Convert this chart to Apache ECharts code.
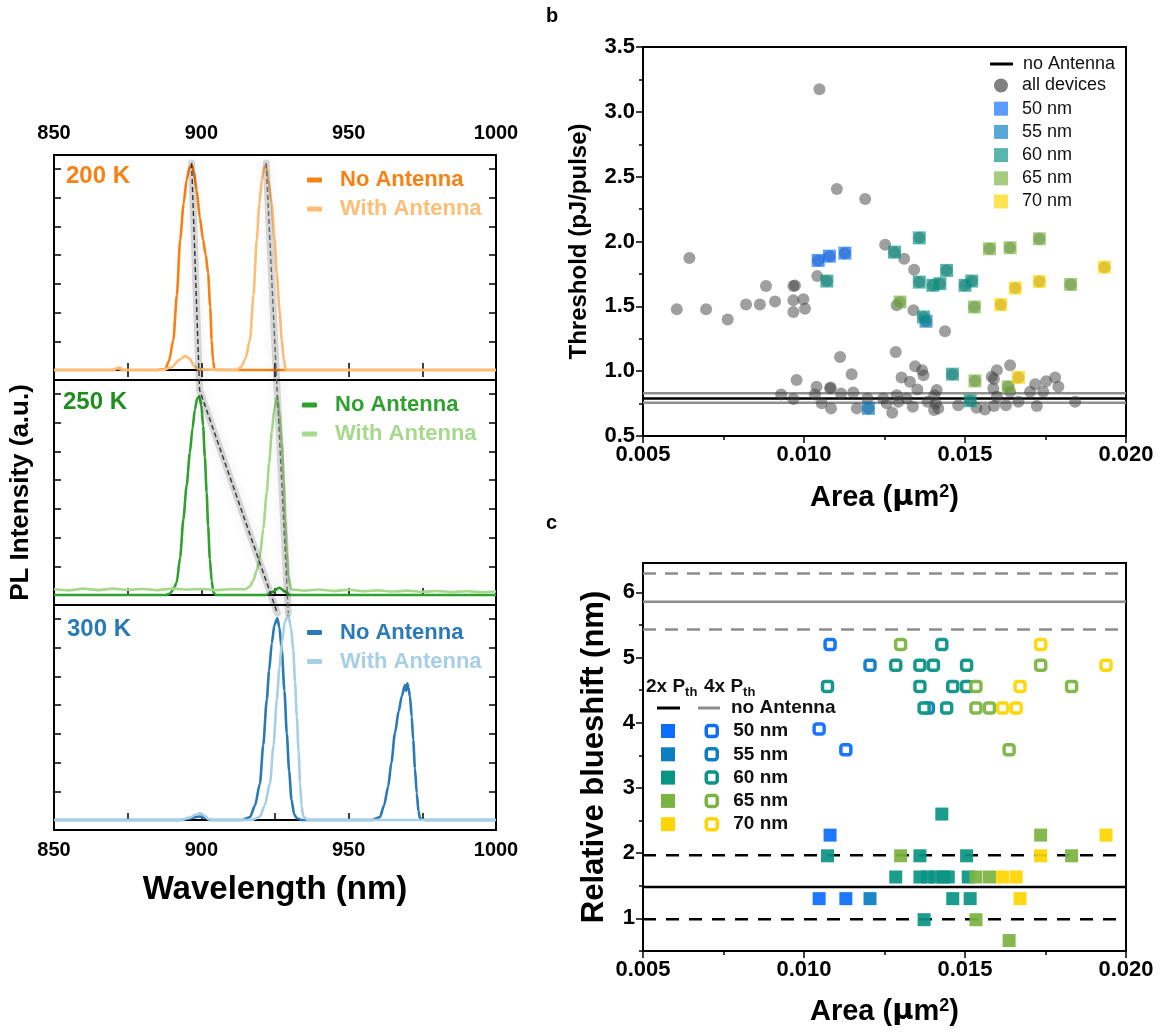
<!DOCTYPE html>
<html><head><meta charset="utf-8">
<script src="https://cdn.jsdelivr.net/npm/echarts@6/dist/echarts.min.js"></script>
<style>html,body{margin:0;padding:0;background:#fff}#chart{width:1162px;height:1032px}</style>
</head><body><div id="chart"></div>
<script>
// ---------------- Panel a: PL spectra (wavelength nm, intensity a.u.) ----------------
const spec200NoAnt = [[850,0],[870,0],[871.5,0.05],[873,0],[885,0],[887.7,0.02],[889,0.3],[890.5,1.05],[891.7,2.6],[892.8,4.53],[894,5.8],[895,6.62],[896,7.05],[896.7,7.14],[897.5,6.9],[898.4,6.27],[899.5,5.3],[900.6,4.53],[901.5,4.0],[902.3,3.38],[903,2.2],[903.5,1.05],[904,0.3],[904.5,0],[920,0],[1000,0]];
const spec200WithAnt = [[850,0],[870,0],[872,0.08],[874,0],[887,0],[890,0.1],[892.5,0.35],[894.5,0.49],[896,0.4],[897.5,0.15],[899,0.02],[912,0],[913.5,0.1],[915,0.4],[916.5,1.05],[917.7,2.6],[918.8,4.53],[919.7,5.8],[920.5,6.6],[921.3,7.05],[921.9,7.14],[922.8,6.6],[923.9,5.8],[924.8,4.6],[925.6,3.38],[926.5,2.1],[927.3,1.05],[928,0.35],[928.7,0],[1000,0]];
const spec250NoAnt = [[850,0],[888,0],[889.4,0.05],[890.5,0.2],[891.6,0.42],[892.8,1.3],[893.9,2.63],[895,3.8],[896.1,4.95],[897,5.8],[897.8,6.46],[898.6,6.85],[899.3,6.92],[900,6.6],[900.6,5.89],[901.2,4.8],[901.8,3.57],[902.3,2.4],[902.9,1.25],[903.5,0.5],[904.1,0.08],[905,0],[922,0],[924,0.1],[926.5,0.25],[928.5,0.12],[930,0],[1000,0]];
const spec250WithAnt = [[850,0.2],[855,0.16],[860,0.22],[865,0.17],[870,0.22],[875,0.18],[880,0.21],[885,0.17],[890,0.22],[895,0.19],[900,0.21],[905,0.17],[910,0.2],[915,0.2],[916.5,0.3],[917.6,0.5],[918.8,0.85],[919.9,1.35],[921,2.3],[922.2,3.57],[923,4.6],[923.9,5.66],[924.8,6.5],[925.8,6.92],[926.5,6.3],[927.3,5.3],[927.9,4.0],[928.4,2.63],[929,1.5],[929.5,0.65],[930.6,0.19],[935,0.15],[940,0.19],[945,0.14],[950,0.18],[955,0.13],[960,0.16],[965,0.12],[970,0.15],[975,0.11],[980,0.14],[985,0.1],[990,0.13],[995,0.1],[1000,0.12]];
const spec300NoAnt = [[850,0],[893,0],[896,0.05],[898,0.1],[899.5,0.12],[901,0.08],[903,0],[914,0],[916.5,0.1],[918.2,0.5],[919.9,1.28],[921,2.6],[922.2,4.18],[923,5.2],[923.9,6.15],[924.8,6.8],[925.8,7.03],[926.5,6.7],[927.3,5.92],[928.2,4.5],[929,3.02],[929.8,1.7],[930.6,0.7],[931.5,0.2],[932.4,0.06],[934,0],[958,0],[960.6,0.1],[962,0.5],[963.4,1.16],[964.5,2.0],[965.7,3.02],[967,3.8],[968,4.3],[969.1,4.7],[969.5,4.5],[969.9,4.76],[970.3,4.6],[970.8,4.3],[971.4,3.6],[971.9,2.79],[972.5,1.8],[973.1,0.93],[973.7,0.3],[974.2,0.06],[976,0],[1000,0]];
const spec300WithAnt = [[850,0],[893,0],[896,0.08],[898,0.18],[899.5,0.23],[901,0.15],[902.5,0.03],[904,0],[917,0],[918.5,0.05],[919.9,0.12],[921.5,0.5],[923.3,1.28],[924.5,2.6],[925.6,4.18],[926.5,5.3],[927.3,6.15],[928.3,6.9],[929.5,7.14],[930.4,6.7],[931.2,5.92],[931.8,4.8],[932.4,3.6],[933,2.4],[933.5,1.28],[934,0.5],[934.6,0.12],[936,0],[1000,0]];
// guide lines through the peaks (y in panel units: each panel = 1, top panel top = 3)
const guideNoAnt = [[896.7,2.964],[899.4,1.956],[925.8,0.964]];
const guideWithAnt = [[922.0,2.964],[925.7,1.956],[929.5,0.964]];
const intensityTicks = [0,1,2,3,4,5,6,7];

// ---------------- Panel b: threshold vs area ----------------
const bGray = [[0.01048,3.175],[0.01102,2.405],[0.01190,2.328],[0.00644,1.872],[0.01252,1.975],[0.01311,1.867],[0.01342,1.782],[0.01041,1.733],[0.00882,1.656],[0.00967,1.656],[0.00972,1.660],[0.00605,1.477],[0.00696,1.477],[0.00763,1.398],[0.00820,1.515],[0.00863,1.515],[0.00910,1.538],[0.00967,1.546],[0.00998,1.554],[0.00967,1.456],[0.01003,1.482],[0.01288,1.508],[0.01340,1.469],[0.01438,1.308],[0.01112,1.110],[0.01148,0.977],[0.01285,1.148],[0.01345,1.038],[0.01367,1.008],[0.01371,0.969],[0.01303,0.952],[0.01329,0.918],[0.00977,0.931],[0.01039,0.879],[0.01081,0.867],[0.01083,0.875],[0.01115,0.828],[0.01153,0.836],[0.00929,0.821],[0.00967,0.785],[0.01034,0.821],[0.01055,0.752],[0.01084,0.713],[0.01164,0.713],[0.01197,0.790],[0.01246,0.790],[0.01257,0.752],[0.01288,0.815],[0.01293,0.764],[0.01319,0.790],[0.01338,0.725],[0.01274,0.679],[0.01352,0.859],[0.01384,0.764],[0.01412,0.854],[0.01405,0.815],[0.01409,0.752],[0.01404,0.700],[0.01417,0.713],[0.01479,0.738],[0.01536,0.718],[0.01562,0.705],[0.01590,0.731],[0.01583,0.956],[0.01590,0.940],[0.01599,1.008],[0.01640,1.046],[0.01588,0.867],[0.01599,0.802],[0.01627,0.738],[0.01666,0.764],[0.01640,0.841],[0.01702,0.841],[0.01718,0.900],[0.01723,0.731],[0.01743,0.841],[0.01752,0.923],[0.01780,0.952],[0.01790,0.879],[0.01842,0.764]];
const b50 = [[0.01044,1.854],[0.01079,1.887],[0.01127,1.910]];
const b55 = [[0.01379,1.385],[0.01200,0.713]];
const b60 = [[0.01358,2.028],[0.01281,1.918],[0.01071,1.695],[0.01358,1.687],[0.01400,1.662],[0.01422,1.675],[0.01443,1.777],[0.01500,1.662],[0.01521,1.695],[0.01371,1.418],[0.01461,0.977],[0.01516,0.772]];
const b65 = [[0.01576,1.944],[0.01640,1.952],[0.01731,2.021],[0.01828,1.669],[0.01298,1.533],[0.01529,1.495],[0.01531,0.925],[0.01634,0.879]];
const b70 = [[0.01933,1.802],[0.01731,1.692],[0.01656,1.641],[0.01611,1.513],[0.01666,0.952]];
const bNoAntenna = 0.79;
const bNoAntennaBand = [0.756, 0.83];

// ---------------- Panel c: relative blueshift vs area ----------------
const c2x50 = [[0.01081,2.277],[0.01047,1.303],[0.01130,1.303]];
const c2x55 = [[0.01205,1.303]];
const c2x60 = [[0.01428,2.6],[0.01073,1.96],[0.01360,1.96],[0.01505,1.96],[0.01285,1.635],[0.01360,1.635],[0.01384,1.635],[0.01408,1.635],[0.01433,1.635],[0.01448,1.635],[0.01510,1.635],[0.01462,1.303],[0.01516,1.303],[0.01373,0.98]];
const c2x65 = [[0.01735,2.277],[0.01300,1.96],[0.01831,1.96],[0.01534,1.635],[0.01576,1.635],[0.01534,0.98],[0.01637,0.66]];
const c2x70 = [[0.01938,2.277],[0.01735,1.96],[0.01617,1.635],[0.01659,1.635],[0.01671,1.303]];
const c4x50 = [[0.01081,5.2],[0.01047,3.903],[0.01130,3.585]];
const c4x55 = [[0.01205,4.882],[0.01386,4.226]];
const c4x60 = [[0.01428,5.2],[0.01285,4.882],[0.01360,4.882],[0.01402,4.882],[0.01505,4.882],[0.01073,4.558],[0.01360,4.558],[0.01462,4.558],[0.01505,4.558],[0.01373,4.226],[0.01443,4.226]];
const c4x65 = [[0.01300,5.2],[0.01735,4.882],[0.01534,4.558],[0.01831,4.558],[0.01534,4.226],[0.01576,4.226],[0.01637,3.585]];
const c4x70 = [[0.01735,5.2],[0.01938,4.882],[0.01671,4.558],[0.01617,4.226],[0.01659,4.226]];
const c2xMean = 1.48, c2xBand = [0.985, 1.97];
const c4xMean = 5.857, c4xBand = [5.43, 6.29];
const cMajorTicks = [1,2,3,4,5,6];
const cMinorTicks = [0.5,1.5,2.5,3.5,4.5,5.5];

const sizeNames = ['50 nm','55 nm','60 nm','65 nm','70 nm'];
const sizeColors = ['#0D6EFD','#0B7EC4','#0A9484','#7CB443','#FFD500'];

// ---------------- chart ----------------
const FONT = '"Liberation Sans", Arial, sans-serif';
const C = {o1:'#F98012', o2:'#FDBE77', g1:'#2FA12F', g2:'#A6D98C', g1t:'#1E8E1E', b1:'#2A7AB8', b2:'#A7CFE6'};
const X0 = 0.005, X1 = 0.020;
const hline = v => [[X0, v],[X1, v]];

const frame = {show:true, borderColor:'#000', borderWidth:2, backgroundColor:'transparent'};
const grid = [
  Object.assign({left:54, top:155, width:442, height:225}, frame),
  Object.assign({left:54, top:380, width:442, height:225}, frame),
  Object.assign({left:54, top:605, width:442, height:225}, frame),
  {left:54, top:155, width:442, height:675, show:false},
  Object.assign({left:643, top:47, width:483, height:389}, frame),
  Object.assign({left:643, top:563, width:483, height:388}, frame)
];
const axLine = {show:true, lineStyle:{color:'#000', width:2}};
const lblA = {fontSize:20, fontWeight:'bold', color:'#000', fontFamily:FONT};
function specX(g, pos, showLbl, extra) {
  return Object.assign({gridIndex:g, type:'value', position:pos, min:850, max:1000, interval:25,
    axisLine:axLine, axisTick:{inside:true, length:7, lineStyle:{color:'#000', width:1.5}},
    axisLabel:Object.assign({show:showLbl, margin: pos==='top'?12:10, formatter: v => (v % 50 === 0 ? String(v) : '')}, lblA),
    splitLine:{show:false}}, extra||{});
}
function specY(g, pos, extra) {
  return Object.assign({gridIndex:g, type:'value', position:pos, min:-0.35, max:7.49,
    axisLine:axLine, axisTick:{inside:true, length:7, customValues:intensityTicks, lineStyle:{color:'#000', width:1.5}},
    axisLabel:{show:false}, splitLine:{show:false}}, extra||{});
}
const lblB = {fontSize:22, fontWeight:'bold', color:'#000', fontFamily:FONT};
const areaName = 'Area ({mu|μ}m{sup|2})';
const areaNameStyle = {fontSize:29, fontWeight:'bold', color:'#000', fontFamily:FONT,
  rich:{mu:{fontSize:29, fontWeight:'bold', fontFamily:'"DejaVu Sans", sans-serif'}, sup:{fontSize:18, fontWeight:'bold', verticalAlign:'top', padding:[0,0,11,0]}}};
function areaX(g, gap) {
  return {gridIndex:g, type:'value', min:X0, max:X1, interval:0.005,
    axisLine:axLine, axisTick:{inside:false, length:7, lineStyle:{color:'#000', width:1.5}},
    minorTick:{show:true, splitNumber:2, length:4, lineStyle:{color:'#000', width:1.5}},
    axisLabel:Object.assign({margin:8, formatter: v => v.toFixed(3)}, lblB),
    splitLine:{show:false}, minorSplitLine:{show:false},
    name:areaName, nameLocation:'middle', nameGap:gap, nameTextStyle:areaNameStyle};
}
const xAxis = [
  specX(0,'bottom',false),
  specX(0,'top',true),
  specX(1,'bottom',false),
  specX(2,'bottom',true,{name:'Wavelength (nm)', nameLocation:'middle', nameGap:43,
    nameTextStyle:{fontSize:33, fontWeight:'bold', color:'#000', fontFamily:FONT}}),
  {gridIndex:3, type:'value', min:850, max:1000, show:false},
  areaX(4, 47),
  areaX(5, 46)
];
const yAxis = [
  specY(0,'left'), specY(0,'right'),
  specY(1,'left',{name:'PL Intensity (a.u.)', nameLocation:'middle', nameGap:20,
    nameTextStyle:{fontSize:26, fontWeight:'bold', color:'#000', fontFamily:FONT}}),
  specY(1,'right'),
  specY(2,'left'), specY(2,'right'),
  {gridIndex:3, type:'value', min:0, max:3, show:false},
  {gridIndex:4, type:'value', min:0.5, max:3.5, interval:0.5,
    axisLine:axLine, axisTick:{inside:false, length:7, lineStyle:{color:'#000', width:1.5}},
    minorTick:{show:true, splitNumber:2, length:4, lineStyle:{color:'#000', width:1.5}},
    axisLabel:Object.assign({margin:8, formatter: v => v.toFixed(1)}, lblB),
    splitLine:{show:false}, minorSplitLine:{show:false},
    name:'Threshold (pJ/pulse)', nameLocation:'middle', nameGap:52,
    nameTextStyle:{fontSize:24, fontWeight:'bold', color:'#000', fontFamily:FONT}},
  {gridIndex:5, type:'value', min:0.5, max:6.45,
    axisLine:axLine, axisTick:{inside:false, length:7, customValues:cMajorTicks, lineStyle:{color:'#000', width:1.5}},
    axisLabel:Object.assign({margin:8, customValues:cMajorTicks, formatter: v => String(Math.round(v))}, lblB),
    splitLine:{show:false},
    name:'Relative blueshift (nm)', nameLocation:'middle', nameGap:33,
    nameTextStyle:{fontSize:31, fontWeight:'bold', color:'#000', fontFamily:FONT}},
  {gridIndex:5, type:'value', min:0.5, max:6.45, position:'left',
    axisLine:{show:false}, axisTick:{inside:false, length:4, customValues:cMinorTicks, lineStyle:{color:'#000', width:1.5}},
    axisLabel:{show:false}, splitLine:{show:false}}
];

const series = [];
function spec(name, data, xi, yi, color) {
  series.push({name, type:'line', xAxisIndex:xi, yAxisIndex:yi, data, symbol:'none', smooth:0.25, smoothMonotone:'x',
    lineStyle:{color, width:2.6}, itemStyle:{color}, z:2});
}
spec('NA200', spec200NoAnt, 0, 0, C.o1);
spec('WA200', spec200WithAnt, 0, 0, C.o2);
spec('NA250', spec250NoAnt, 2, 2, C.g1);
spec('WA250', spec250WithAnt, 2, 2, C.g2);
spec('NA300', spec300NoAnt, 3, 4, C.b1);
spec('WA300', spec300WithAnt, 3, 4, C.b2);
[guideNoAnt, guideWithAnt].forEach((g, i) => {
  series.push({name:'glow'+i, type:'line', xAxisIndex:4, yAxisIndex:6, data:g, symbol:'none', silent:true, z:4,
    lineStyle:{color:'rgba(0,0,0,0.14)', width:7, cap:'round', join:'round', shadowBlur:12, shadowColor:'rgba(0,0,0,0.5)'}});
  series.push({name:'guide'+i, type:'line', xAxisIndex:4, yAxisIndex:6, data:g, symbol:'none', silent:true, z:5,
    lineStyle:{color:i===0?'#333':'#666', width:1.4, type:[5,3]}});
});

// panel b
series.push({name:'bBandLo', type:'line', xAxisIndex:5, yAxisIndex:7, data:hline(bNoAntennaBand[0]), symbol:'none', lineStyle:{color:'#8f8f8f', width:2.5}, z:2});
series.push({name:'bBandHi', type:'line', xAxisIndex:5, yAxisIndex:7, data:hline(bNoAntennaBand[1]), symbol:'none', lineStyle:{color:'#8f8f8f', width:2.5}, z:2});
series.push({name:'bNoAnt', type:'line', xAxisIndex:5, yAxisIndex:7, data:hline(bNoAntenna), symbol:'none', lineStyle:{color:'#000', width:2.5}, itemStyle:{color:'#000'}, z:2});
const bSizes = [b50, b55, b60, b65, b70];
series.push({name:'bAll', type:'scatter', xAxisIndex:5, yAxisIndex:7, data:bGray.concat(b50, b55, b60, b65, b70),
  symbol:'circle', symbolSize:12, itemStyle:{color:'rgba(60,60,60,0.62)'}, z:3});
bSizes.forEach((d, i) => {
  series.push({name:'b'+sizeNames[i], type:'scatter', xAxisIndex:5, yAxisIndex:7, data:d,
    symbol:'rect', symbolSize:13, itemStyle:{color:sizeColors[i], opacity:0.68}, z:4});
});

// panel c
[c4xBand[0], c4xBand[1]].forEach((v, i) => series.push({name:'c4band'+i, type:'line', xAxisIndex:6, yAxisIndex:8, data:hline(v), symbol:'none',
  lineStyle:{color:'#8c8c8c', width:2.5, type:[13,9]}, z:2}));
series.push({name:'c4line', type:'line', xAxisIndex:6, yAxisIndex:8, data:hline(c4xMean), symbol:'none', lineStyle:{color:'#8c8c8c', width:2.5}, itemStyle:{color:'#8c8c8c'}, z:2});
[c2xBand[0], c2xBand[1]].forEach((v, i) => series.push({name:'c2band'+i, type:'line', xAxisIndex:6, yAxisIndex:8, data:hline(v), symbol:'none',
  lineStyle:{color:'#000', width:2.5, type:[13,10]}, z:2}));
series.push({name:'c2line', type:'line', xAxisIndex:6, yAxisIndex:8, data:hline(c2xMean), symbol:'none', lineStyle:{color:'#000', width:2.5}, itemStyle:{color:'#000'}, z:2});
[c2x50, c2x55, c2x60, c2x65, c2x70].forEach((d, i) => series.push({name:'c2'+sizeNames[i], type:'scatter', xAxisIndex:6, yAxisIndex:8, data:d,
  symbol:'rect', symbolSize:13, itemStyle:{color:sizeColors[i], opacity:0.93}, z:4}));
[c4x50, c4x55, c4x60, c4x65, c4x70].forEach((d, i) => series.push({name:'c4'+sizeNames[i], type:'scatter', xAxisIndex:6, yAxisIndex:8, data:d,
  symbol:'roundRect', symbolSize:10, itemStyle:{color:'#fff', borderColor:sizeColors[i], borderWidth:3.5, opacity:0.95}, z:4}));

// legends
const legendLabel = {NA200:'No Antenna', WA200:'With Antenna', NA250:'No Antenna', WA250:'With Antenna', NA300:'No Antenna', WA300:'With Antenna'};
function specLegend(left, top, nameA, nameB, ca, cb) {
  return {left, top, padding:0, orient:'vertical', itemWidth:15, itemHeight:5, itemGap:3, symbolKeepAspect:false, selectedMode:false,
    formatter: n => legendLabel[n],
    textStyle:{fontSize:22, fontWeight:'bold', fontFamily:FONT, lineHeight:26, padding:[0,0,0,13]},
    data:[{name:nameA, icon:'roundRect', itemStyle:{color:ca}, textStyle:{color:ca}},
          {name:nameB, icon:'roundRect', itemStyle:{color:cb}, textStyle:{color:cb}}]};
}
const legTxtB = {fontSize:18, fontFamily:FONT, color:'#111', lineHeight:20};
const legTxtC = {fontSize:19, fontWeight:'bold', fontFamily:FONT, color:'#111', lineHeight:20};
const legend = [
  specLegend(307, 167, 'NA200', 'WA200', C.o1, C.o2),
  specLegend(302, 392, 'NA250', 'WA250', C.g1, C.g2),
  specLegend(307, 619.5, 'NA300', 'WA300', C.b1, C.b2),
  {left:990, top:54, padding:0, orient:'vertical', itemWidth:23, itemHeight:3, selectedMode:false, symbolKeepAspect:false,
    formatter: () => 'no Antenna', textStyle:Object.assign({padding:[0,0,0,5]}, legTxtB),
    data:[{name:'bNoAnt', icon:'rect', itemStyle:{color:'#000'}}]},
  {left:994, top:75.5, padding:0, orient:'vertical', itemWidth:14, itemHeight:14, itemGap:3.2, selectedMode:false,
    formatter: n => (n === 'bAll' ? 'all devices' : n.slice(1)), textStyle:Object.assign({padding:[0,0,0,9]}, legTxtB),
    data:[{name:'bAll', icon:'circle', itemStyle:{color:'#808080', opacity:1}}].concat(sizeNames.map((s, i) => ({name:'b'+s, icon:'rect', itemStyle:{color:sizeColors[i], opacity:0.68}})))},
  {left:657, top:698, padding:0, orient:'vertical', itemWidth:23, itemHeight:3, selectedMode:false, symbolKeepAspect:false,
    formatter: () => ' ', textStyle:legTxtC, data:[{name:'c2line', icon:'rect', itemStyle:{color:'#000'}}]},
  {left:698, top:698, padding:0, orient:'vertical', itemWidth:22, itemHeight:3, selectedMode:false, symbolKeepAspect:false,
    formatter: () => 'no Antenna', textStyle:Object.assign({padding:[0,0,0,6]}, legTxtC), data:[{name:'c4line', icon:'rect', itemStyle:{color:'#8c8c8c'}}]},
  {left:661, top:721, padding:0, orient:'vertical', itemWidth:14, itemHeight:14, itemGap:3.3, selectedMode:false,
    formatter: () => ' ', textStyle:legTxtC,
    data:sizeNames.map((s, i) => ({name:'c2'+s, icon:'rect', itemStyle:{color:sizeColors[i], opacity:1}}))},
  {left:704.5, top:721, padding:0, orient:'vertical', itemWidth:11, itemHeight:11, itemGap:3.3, selectedMode:false,
    formatter: n => n.slice(2), textStyle:Object.assign({padding:[0,0,0,11]}, legTxtC),
    data:sizeNames.map((s, i) => ({name:'c4'+s, icon:'roundRect', itemStyle:{color:'#fff', borderColor:sizeColors[i], borderWidth:3.5, opacity:1}}))}
];

function txt(x, y, text, fill, size, extra) {
  return Object.assign({type:'text', x, y, z:10, style:{text, fill, font:'bold '+size+'px '+FONT, verticalAlign:'middle'}}, extra||{});
}
const graphic = [
  txt(66, 176, '200 K', C.o1, 24),
  txt(63, 402, '250 K', C.g1t, 24),
  txt(67, 629, '300 K', C.b1, 24),
  txt(546, 16, 'b', '#000', 20),
  txt(546, 523, 'c', '#000', 20),
  {type:'text', x:646, y:687, z:10, style:{text:'2x P{s|th}', fill:'#111', font:'bold 19px '+FONT, verticalAlign:'middle',
     rich:{s:{fontSize:13, fontWeight:'bold', fontFamily:FONT, verticalAlign:'bottom', padding:[10,0,0,0]}}}},
  {type:'text', x:704, y:687, z:10, style:{text:'4x P{s|th}', fill:'#111', font:'bold 19px '+FONT, verticalAlign:'middle',
     rich:{s:{fontSize:13, fontWeight:'bold', fontFamily:FONT, verticalAlign:'bottom', padding:[10,0,0,0]}}}}
];

const chart = echarts.init(document.getElementById('chart'), null, {renderer:'canvas'});
chart.setOption({
  animation:false, backgroundColor:'#fff',
  textStyle:{fontFamily:FONT},
  grid, xAxis, yAxis, series, legend, graphic
});
</script></body></html>
